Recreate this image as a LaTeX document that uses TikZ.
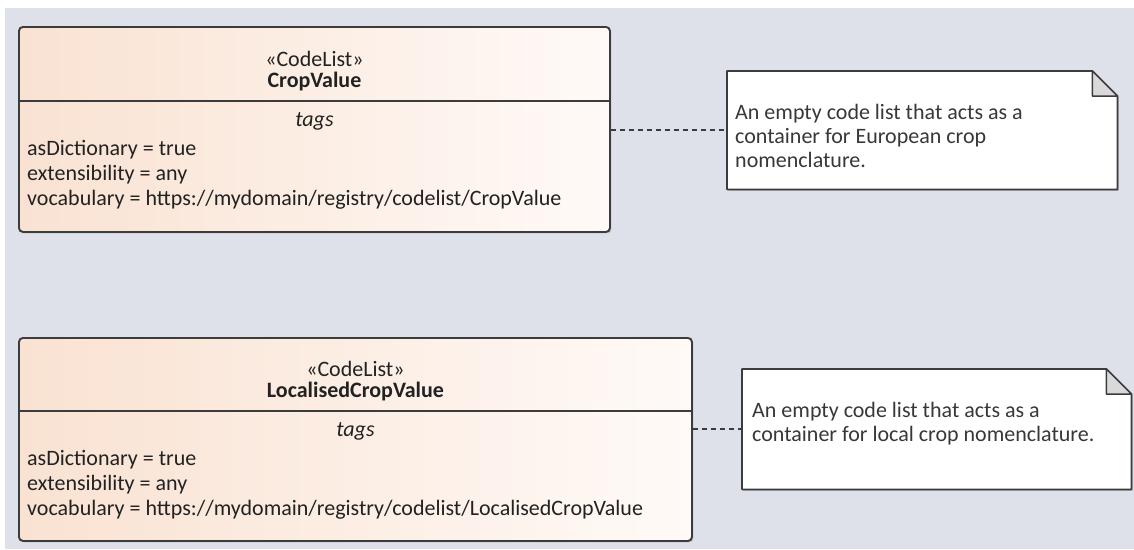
\documentclass[tikz,border=0pt]{standalone}
\usepackage{fontspec}
\setmainfont{Carlito}
\usepackage{xcolor}
\definecolor{umlBack}{HTML}{DEE1EA}
\definecolor{umlPeach}{HTML}{F9E2D2}
\definecolor{umlCream}{HTML}{FFFAF7}
\definecolor{umlBorder}{HTML}{3C3C3C}
\definecolor{umlFold}{HTML}{D9D9D9}
\definecolor{umlText}{HTML}{222222}
\definecolor{umlNoteText}{HTML}{383838}
\usetikzlibrary{positioning,shadows,calc}
\tikzset{
    codelist/.style={
        draw=umlBorder,
        left color=umlPeach,
        right color=umlCream,
        rectangle,
        rounded corners=4pt,
        line width=1.9pt,
        inner sep=0pt,
        anchor=north west,
        drop shadow={shadow xshift=1.5pt, shadow yshift=-1.5pt, opacity=0.35}
    },
    compartment/.style={
        draw=umlBorder,
        line width=1.6pt
    },
    notearea/.style={
        rectangle,
        inner sep=0pt,
        anchor=north west
    },
    notebox/.style={
        draw=umlBorder,
        fill=white,
        line width=1.7pt,
        line join=round,
        drop shadow={shadow xshift=1.5pt, shadow yshift=-1.5pt, opacity=0.35}
    },
    notefold/.style={
        draw=umlBorder,
        fill=umlFold,
        line width=1.5pt,
        line join=round
    },
    stereo/.style={
        anchor=base,
        inner sep=0pt,
        text=umlText,
        font=\fontsize{22}{26}\selectfont
    },
    classname/.style={
        stereo,
        font=\fontsize{22}{26}\selectfont\bfseries
    },
    tagtitle/.style={
        stereo,
        font=\fontsize{22}{26}\selectfont\itshape
    },
    attr/.style={
        anchor=base west,
        inner sep=0pt,
        text=umlText,
        font=\fontsize{22}{26}\selectfont
    },
    notetext/.style={
        anchor=base west,
        inner sep=0pt,
        text=umlNoteText,
        font=\fontsize{22}{25}\selectfont
    },
    link/.style={
        draw=umlBorder,
        line width=1.6pt,
        dash pattern=on 5pt off 4pt
    }
}

\begin{document}
\begin{tikzpicture}[x=1pt, y=-1pt]
    \useasboundingbox (0,0) rectangle (1134,549);
    \fill[umlBack] (5,8) rectangle (1134,549);

    % CropValue
    \node[codelist, minimum width=591pt, minimum height=205pt] (crop) at (18,26) {};
    \draw[compartment] ([yshift=-75pt]crop.north west) -- ([yshift=-75pt]crop.north east);
    \node[stereo] (cropstereo) at ([yshift=-40pt]crop.north) {«CodeList»};
    \node[classname] (cropname) at ([yshift=-61pt]crop.north) {CropValue};
    \node[tagtitle] (croptags) at ([yshift=-100pt]crop.north) {tags};
    \node[attr] (cropdict) at ([xshift=9pt, yshift=-129pt]crop.north west) {asDictionary = true};
    \node[attr] (cropext) at ([xshift=9pt, yshift=-154pt]crop.north west) {extensibility = any};
    \node[attr] (cropvoc) at ([xshift=9pt, yshift=-179pt]crop.north west) {vocabulary = https://mydomain/registry/codelist/CropValue};

    \node[notearea, minimum width=390pt, minimum height=118pt] (cropnote) at (727,71) {};
    \draw[notebox] (cropnote.north west) -- ([xshift=-25pt]cropnote.north east)
        -- ([yshift=-25pt]cropnote.north east) -- (cropnote.south east)
        -- (cropnote.south west) -- cycle;
    \draw[notefold] ([xshift=-25pt]cropnote.north east) -- ([xshift=-25pt, yshift=-25pt]cropnote.north east)
        -- ([yshift=-25pt]cropnote.north east) -- cycle;
    \node[notetext] (cropnote1) at ([xshift=8pt, yshift=-48pt]cropnote.north west) {An empty code list that acts as a};
    \node[notetext] (cropnote2) at ([xshift=8pt, yshift=-72pt]cropnote.north west) {container for European crop};
    \node[notetext] (cropnote3) at ([xshift=8pt, yshift=-96pt]cropnote.north west) {nomenclature.};
    \draw[link] (cropnote.west -| crop.east) -- (cropnote.west);

    % LocalisedCropValue
    \node[codelist, minimum width=673pt, minimum height=203pt] (loc) at (18,337) {};
    \draw[compartment] ([yshift=-74pt]loc.north west) -- ([yshift=-74pt]loc.north east);
    \node[stereo] (locstereo) at ([yshift=-39pt]loc.north) {«CodeList»};
    \node[classname] (locname) at ([yshift=-60pt]loc.north) {LocalisedCropValue};
    \node[tagtitle] (loctags) at ([yshift=-99pt]loc.north) {tags};
    \node[attr] (locdict) at ([xshift=9pt, yshift=-128pt]loc.north west) {asDictionary = true};
    \node[attr] (locext) at ([xshift=9pt, yshift=-153pt]loc.north west) {extensibility = any};
    \node[attr] (locvoc) at ([xshift=9pt, yshift=-178pt]loc.north west) {vocabulary = https://mydomain/registry/codelist/LocalisedCropValue};

    \node[notearea, minimum width=389pt, minimum height=120pt] (locnote) at (742,369) {};
    \draw[notebox] (locnote.north west) -- ([xshift=-25pt]locnote.north east)
        -- ([yshift=-25pt]locnote.north east) -- (locnote.south east)
        -- (locnote.south west) -- cycle;
    \draw[notefold] ([xshift=-25pt]locnote.north east) -- ([xshift=-25pt, yshift=-25pt]locnote.north east)
        -- ([yshift=-25pt]locnote.north east) -- cycle;
    \node[notetext] (locnote1) at ([xshift=10pt, yshift=-48pt]locnote.north west) {An empty code list that acts as a};
    \node[notetext] (locnote2) at ([xshift=10pt, yshift=-72pt]locnote.north west) {container for local crop nomenclature.};
    \draw[link] (locnote.west -| loc.east) -- (locnote.west);
\end{tikzpicture}
\end{document}
